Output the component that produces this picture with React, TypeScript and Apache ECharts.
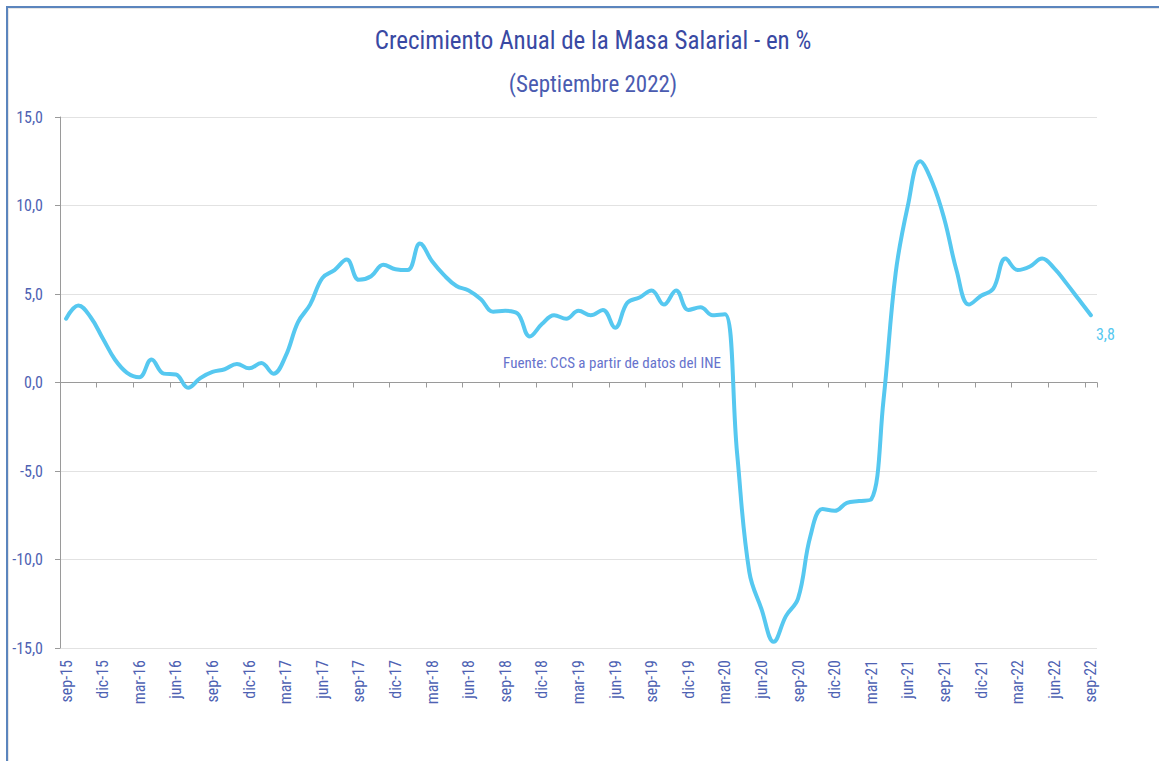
import React, { useEffect, useRef } from "react";
import * as echarts from "echarts";

const FONT = "'Roboto Condensed', 'Liberation Sans Narrow', 'DejaVu Sans Condensed', Roboto, sans-serif";

const categories = [
  "sep-15", "oct-15", "nov-15", "dic-15", "ene-16", "feb-16", "mar-16", "abr-16", "may-16", "jun-16", "jul-16", "ago-16",
  "sep-16", "oct-16", "nov-16", "dic-16", "ene-17", "feb-17", "mar-17", "abr-17", "may-17", "jun-17", "jul-17", "ago-17",
  "sep-17", "oct-17", "nov-17", "dic-17", "ene-18", "feb-18", "mar-18", "abr-18", "may-18", "jun-18", "jul-18", "ago-18",
  "sep-18", "oct-18", "nov-18", "dic-18", "ene-19", "feb-19", "mar-19", "abr-19", "may-19", "jun-19", "jul-19", "ago-19",
  "sep-19", "oct-19", "nov-19", "dic-19", "ene-20", "feb-20", "mar-20", "abr-20", "may-20", "jun-20", "jul-20", "ago-20",
  "sep-20", "oct-20", "nov-20", "dic-20", "ene-21", "feb-21", "mar-21", "abr-21", "may-21", "jun-21", "jul-21", "ago-21",
  "sep-21", "oct-21", "nov-21", "dic-21", "ene-22", "feb-22", "mar-22", "abr-22", "may-22", "jun-22", "jul-22", "ago-22",
  "sep-22",
];

const masaSalarial = [
  3.6, 4.35, 3.7, 2.5, 1.3, 0.55, 0.3, 1.3, 0.5, 0.45, -0.3, 0.25,
  0.6, 0.75, 1.05, 0.8, 1.1, 0.5, 1.5, 3.4, 4.4, 5.9, 6.35, 6.95,
  5.8, 6.0, 6.65, 6.4, 6.35, 7.85, 6.85, 6.05, 5.45, 5.2, 4.7, 4.0,
  4.05, 3.9, 2.6, 3.3, 3.8, 3.6, 4.05, 3.8, 4.1, 3.1, 4.5, 4.8,
  5.2, 4.4, 5.2, 4.1, 4.25, 3.8, 3.85, -4.0, -10.7, -12.8, -14.65, -13.2,
  -12.2, -8.7, -7.15, -7.25, -6.8, -6.7, -6.6, -1.0, 6.2, 10.0, 12.5, 11.3,
  9.2, 6.3, 4.4, 4.9, 5.3, 7.0, 6.35, 6.55, 7.0, 6.45, 5.6, 4.7,
  3.8,
];

const yTicks = { min: -15, max: 15, step: 5 };

const TITLE = "Crecimiento Anual de la Masa Salarial - en %";
const SUBTITLE = "(Septiembre 2022)";
const SOURCE = "Fuente: CCS a partir de datos del INE";

const fmt = (v: number) => v.toFixed(1).replace(".", ",");

export default function App() {
  const ref = useRef<HTMLDivElement>(null);
  useEffect(() => {
    if (!ref.current) return;
    const chart = echarts.init(ref.current, null, { renderer: "svg" });
    const axisGray = "#9a9a9a";
    const labelColor = "#4e62b3";
    chart.setOption({
      animation: false,
      backgroundColor: "#ffffff",
      textStyle: { fontFamily: FONT },
      title: [
        {
          text: TITLE,
          left: 588,
          top: 23,
          textAlign: "center",
          textStyle: { fontFamily: FONT, fontSize: 25, fontWeight: "normal", color: "#3949a3" },
        },
        {
          text: SUBTITLE,
          left: 588,
          top: 68,
          textAlign: "center",
          textStyle: { fontFamily: FONT, fontSize: 23, fontWeight: "normal", color: "#4a5bb0" },
        },
      ],
      grid: { left: 60, right: 62, top: 117, bottom: 113, containLabel: false },
      xAxis: [
        {
          type: "category",
          data: categories,
          boundaryGap: true,
          axisLine: { show: true, onZero: true, lineStyle: { color: axisGray, width: 1 } },
          axisTick: { show: true, interval: 2, length: 5, lineStyle: { color: axisGray } },
          axisLabel: { show: false },
          splitLine: { show: false },
        },
        {
          type: "category",
          data: categories,
          position: "bottom",
          boundaryGap: true,
          axisLine: { show: false, onZero: false },
          axisTick: { show: false },
          axisLabel: {
            interval: 2,
            rotate: 90,
            margin: 12,
            color: labelColor,
            fontSize: 16,
            fontFamily: FONT,
          },
          splitLine: { show: false },
        },
      ],
      yAxis: {
        type: "value",
        min: yTicks.min,
        max: yTicks.max,
        interval: yTicks.step,
        axisLine: { show: true, onZero: false, lineStyle: { color: axisGray, width: 1 } },
        axisTick: { show: true, length: 5, lineStyle: { color: axisGray } },
        axisLabel: {
          formatter: (v: number) => fmt(v),
          color: labelColor,
          fontSize: 16,
          margin: 17,
          fontFamily: FONT,
        },
        splitLine: { show: true, lineStyle: { color: "#e2e2e2", width: 1 } },
      },
      series: [
        {
          type: "line",
          name: "Masa salarial",
          data: masaSalarial,
          xAxisIndex: 0,
          smooth: 0.4,
          showSymbol: false,
          symbol: "none",
          lineStyle: { color: "#56c8f0", width: 4, cap: "round", join: "round" },
          endLabel: {
            show: true,
            formatter: (p: any) => fmt(Number(p.value)),
            color: "#56c8f0",
            fontSize: 16,
            fontFamily: FONT,
            offset: [-3, 19],
          },
          z: 3,
        },
      ],
      graphic: [
        {
          type: "text",
          x: 612,
          y: 363,
          style: {
            text: SOURCE,
            fill: "#6673cc",
            font: `15px ${FONT}`,
            align: "center",
            verticalAlign: "middle",
          },
        },
      ],
    });
    return () => chart.dispose();
  }, []);

  return (
    <div
      style={{
        position: "fixed",
        left: 0,
        top: 0,
        width: 1159,
        height: 761,
        overflow: "hidden",
        background: "#fff",
      }}
    >
      <div ref={ref} style={{ position: "absolute", left: 0, top: 0, width: 1159, height: 761 }} />
      <div
        style={{
          position: "absolute",
          left: 8,
          top: 8,
          width: 1200,
          height: 800,
          borderTop: "1px solid #e6e6e6",
          borderLeft: "1px solid #e6e6e6",
          pointerEvents: "none",
        }}
      />
      <div
        style={{
          position: "absolute",
          left: 6,
          top: 6,
          width: 1200,
          height: 800,
          borderTop: "2px solid #5b85bd",
          borderLeft: "2px solid #5b85bd",
          pointerEvents: "none",
        }}
      />
    </div>
  );
}
